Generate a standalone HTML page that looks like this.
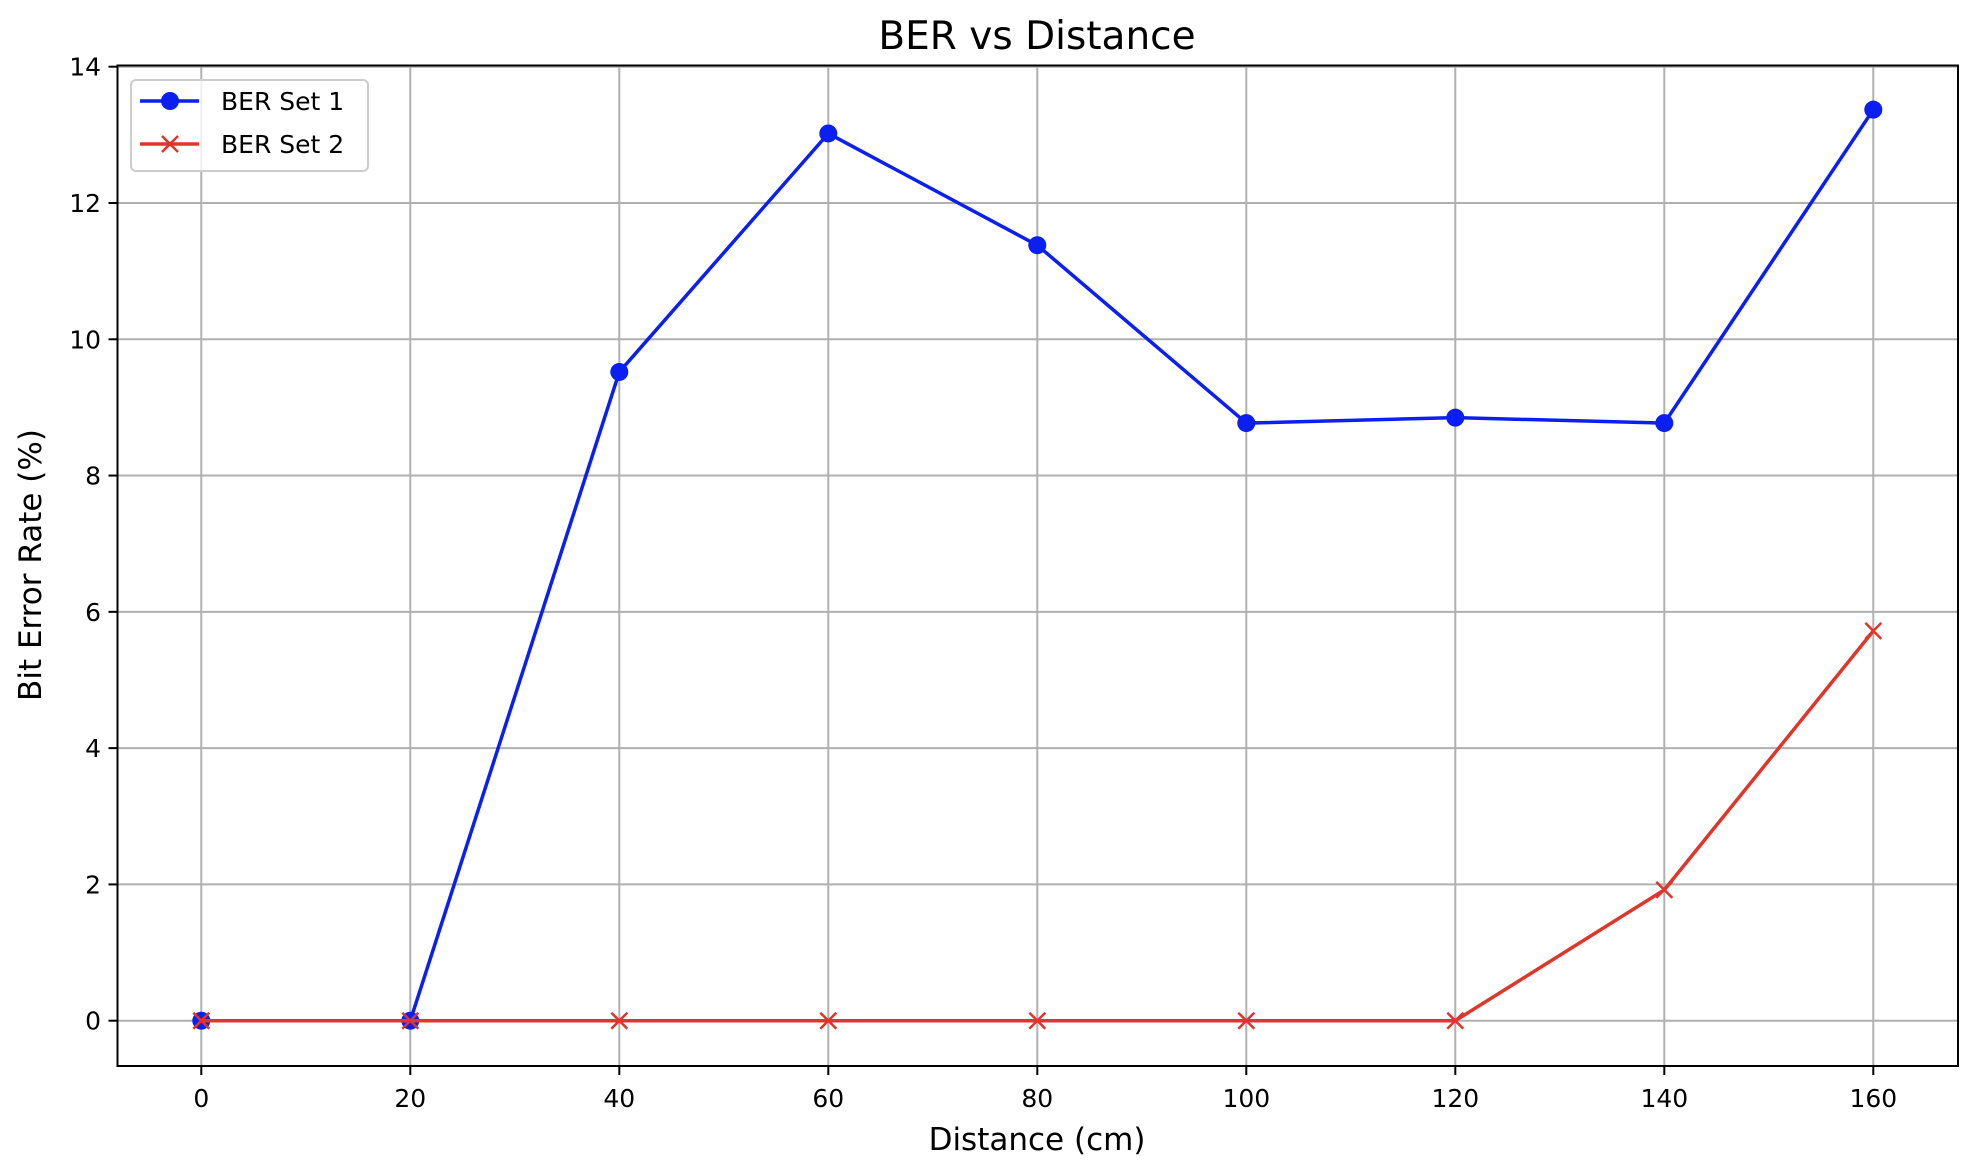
<!DOCTYPE html>
<html><head><meta charset="utf-8"><style>
html,body{margin:0;padding:0;background:#fff;}
svg{display:block;font-family:"DejaVu Sans","Liberation Sans",sans-serif;}
</style></head><body>
<svg id="chart" width="1970" height="1172" viewBox="0 0 1970 1172" xmlns="http://www.w3.org/2000/svg">
<rect width="1970" height="1172" fill="#fff"/>
<g id="grid"></g>
<g id="series"></g>
<rect x="117.5" y="65.5" width="1840.5" height="1000.5" fill="none" stroke="#000" stroke-width="2"/>
<g id="ticks"></g>
<text x="1037" y="49" font-size="39" text-anchor="middle">BER vs Distance</text>
<text x="1037" y="1150" font-size="31" text-anchor="middle">Distance (cm)</text>
<text transform="translate(41,565) rotate(-90)" font-size="31" text-anchor="middle">Bit Error Rate (%)</text>
<g>
<rect x="131" y="80" width="237" height="91" rx="5" fill="#fff" fill-opacity="0.8" stroke="#ccc" stroke-width="2"/>
<g>
<line x1="140" y1="101" x2="199" y2="101" stroke="#0a1ff0" stroke-width="3.5"/>
<circle cx="170" cy="101" r="9" fill="#0a1ff0"/>
<text x="221" y="110" font-size="25">BER Set 1</text>
</g>
<g>
<line x1="140" y1="144" x2="199" y2="144" stroke="#e0352b" stroke-width="3.5"/>
<path d="M162 136 L178 152 M178 136 L162 152" stroke="#e0352b" stroke-width="2.5"/>
<text x="221" y="153" font-size="25">BER Set 2</text>
</g>
</g>
</svg>
<script>
const distances = [0, 20, 40, 60, 80, 100, 120, 140, 160];
const berSet1 = [0, 0, 9.52, 13.02, 11.38, 8.77, 8.85, 8.77, 13.37];
const berSet2 = [0, 0, 0, 0, 0, 0, 0, 1.92, 5.72];
const xTicks = [0, 20, 40, 60, 80, 100, 120, 140, 160];
const yTicks = [0, 2, 4, 6, 8, 10, 12, 14];

const NS = "http://www.w3.org/2000/svg";
const L = 117.5, R = 1958, T = 65.5, B = 1066;
function sx(v){ return 201.3 + v * (1873.3 - 201.3) / 160; }
function sy(v){ return 1020.7 - v * (1020.7 - 66.7) / 14; }
function mk(tag, attrs, parent){ const e = document.createElementNS(NS, tag); for (const k in attrs) e.setAttribute(k, attrs[k]); parent.appendChild(e); return e; }

const grid = document.getElementById('grid');
const ticks = document.getElementById('ticks');
xTicks.forEach(v => {
  const x = sx(v);
  const g = mk('line', {x1:x, y1:T, x2:x, y2:B, stroke:'#b0b0b0', 'stroke-width':2}, grid);
  
  
  mk('line', {x1:x, y1:B, x2:x, y2:B+9, stroke:'#000', 'stroke-width':2}, ticks);
  const t = mk('text', {x:x, y:1107, 'font-size':25, 'text-anchor':'middle'}, ticks);
  t.textContent = v;
  
  
});
yTicks.forEach(v => {
  const y = sy(v);
  const g = mk('line', {x1:L, y1:y, x2:R, y2:y, stroke:'#b0b0b0', 'stroke-width':2}, grid);
  
  
  mk('line', {x1:L-9, y1:y, x2:L, y2:y, stroke:'#000', 'stroke-width':2}, ticks);
  const t = mk('text', {x:101, y:y+9, 'font-size':25, 'text-anchor':'end'}, ticks);
  t.textContent = v;
  
  
});

const series = document.getElementById('series');
function line(vals, color, name){
  const pts = vals.map((v,i) => sx(distances[i]) + ',' + sy(v)).join(' ');
  const p = mk('polyline', {points:pts, fill:'none', stroke:color, 'stroke-width':3.5, 'stroke-linejoin':'round'}, series);
  
  
}
line(berSet1, '#0a1ff0', 'line-ber-set-1');
berSet1.forEach((v,i) => {
  const c = mk('circle', {cx:sx(distances[i]), cy:sy(v), r:9, fill:'#0a1ff0'}, series);
  
  
});
line(berSet2, '#e0352b', 'line-ber-set-2');
berSet2.forEach((v,i) => {
  const x = sx(distances[i]), y = sy(v);
  const p = mk('path', {d:`M${x-8} ${y-8} L${x+8} ${y+8} M${x+8} ${y-8} L${x-8} ${y+8}`, stroke:'#e0352b', 'stroke-width':2.5}, series);
  
  
});
</script>
</body></html>
